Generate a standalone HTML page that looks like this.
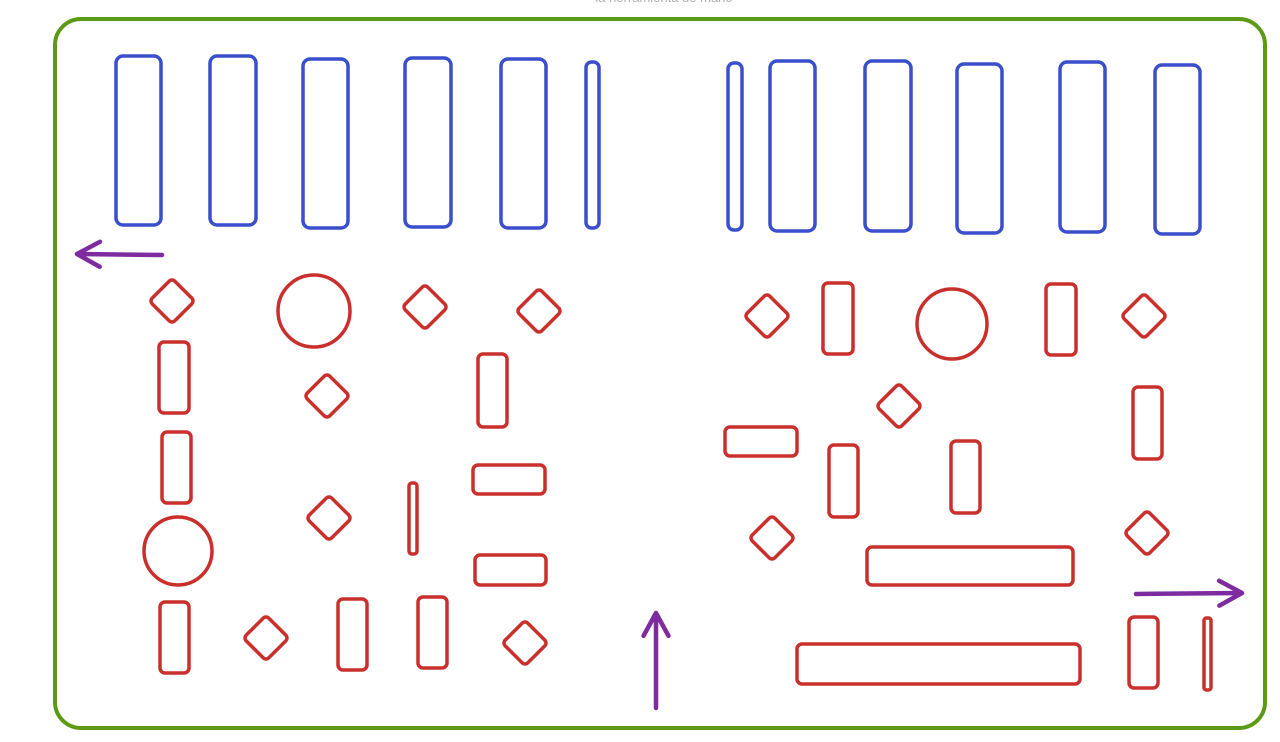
<!DOCTYPE html>
<html><head><meta charset="utf-8"><style>
html,body{margin:0;padding:0;background:#fff;width:1280px;height:742px;overflow:hidden}
svg{display:block}
</style></head><body>
<svg id="c" width="1280" height="742" xmlns="http://www.w3.org/2000/svg">
<text x="664" y="2" text-anchor="middle" font-family="Liberation Sans, sans-serif" font-size="13" fill="#b0b0b0">la herramienta de mano</text>
<rect x="55" y="19" width="1210" height="709" rx="26" fill="none" stroke="#5c9a16" stroke-width="4"/>
<g id="blue" fill="none" stroke="#3a4fcb" stroke-width="3.5"></g>
<g id="red" fill="none" stroke="#c9302c" stroke-width="3.5"></g>
<g id="arrows" fill="none" stroke="#7f2ba0" stroke-width="4.5" stroke-linecap="round" stroke-linejoin="round"></g>
</svg>
<script>
const blueRects=[[116,56,161,225],[210,56,256,225],[303,59,348,228],[405,58,451,227],[501,59,546,228],[586,62,599,228],[728,63,742,230],[770,61,815,231],[865,61,911,231],[957,64,1002,233],[1060,62,1105,232],[1155,65,1200,234]];
const redRects=[[159,342,189,413],[162,432,191,503],[478,354,507,427],[473,465,545,494],[409,483,417,554],[475,555,546,585],[160,602,189,673],[338,599,367,670],[418,597,447,668],[823,283,853,354],[1046,284,1076,355],[725,427,797,456],[829,445,858,517],[951,441,980,513],[1133,387,1162,459],[867,547,1073,585],[797,644,1080,684],[1129,617,1158,688],[1204,618,1211,690]];
const diamonds=[[172,301],[425,307],[539,311],[327,396],[329,518],[266,638],[525,643],[767,316],[899,406],[1144,316],[772,538],[1147,533]];
const circles=[[314,311,36],[178,551,34],[952,324,35]];
const arrows=[[162,255,77,254],[656,708,656,613],[1136,594,1242,593]];
const NS='http://www.w3.org/2000/svg';
function mk(t,p,a){const e=document.createElementNS(NS,t);for(const k in a)e.setAttribute(k,a[k]);document.getElementById(p).appendChild(e);return e;}
blueRects.forEach(r=>{const w=r[2]-r[0];const e=mk('rect','blue',{x:r[0],y:r[1],width:w,height:r[3]-r[1],rx:Math.min(7,w/2-1)});

});
redRects.forEach(r=>{const w=r[2]-r[0],h=r[3]-r[1];const e=mk('rect','red',{x:r[0],y:r[1],width:w,height:h,rx:Math.min(5,Math.min(w,h)/2-1)});

});
diamonds.forEach(d=>{const x=d[0],y=d[1];const e=mk('rect','red',{x:x-16,y:y-16,width:32,height:32,rx:4,transform:`rotate(45 ${x} ${y})`});

});
circles.forEach(c=>{const e=mk('circle','red',{cx:c[0],cy:c[1],r:c[2]});

});
arrows.forEach(a=>{const [x1,y1,x2,y2]=a;const ang=Math.atan2(y2-y1,x2-x1),L=26,sp=0.5;
const p1=[x2-L*Math.cos(ang-sp),y2-L*Math.sin(ang-sp)],p2=[x2-L*Math.cos(ang+sp),y2-L*Math.sin(ang+sp)];
const e=mk('path','arrows',{d:`M${x1},${y1}L${x2},${y2}M${p1[0]},${p1[1]}L${x2},${y2}L${p2[0]},${p2[1]}`});

});
</script>
</body></html>
